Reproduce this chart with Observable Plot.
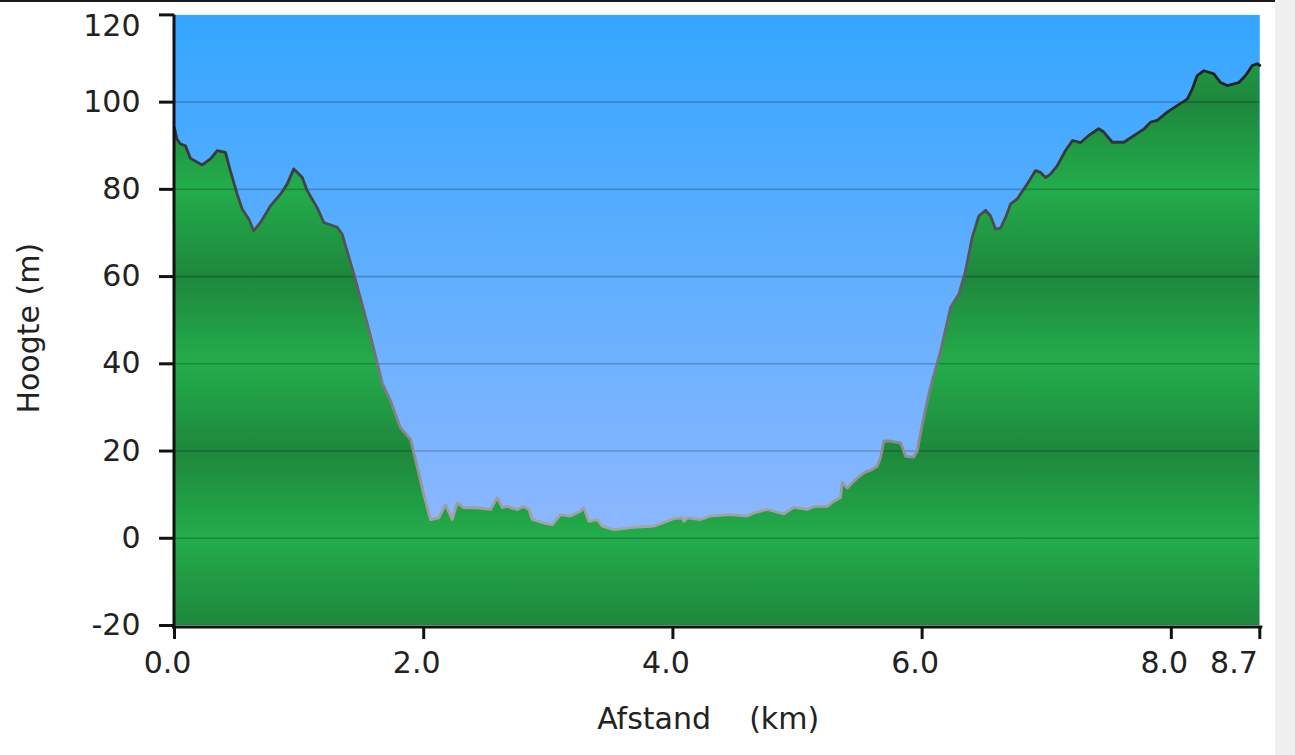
<!DOCTYPE html>
<html><head><meta charset="utf-8">
<script src="https://cdn.jsdelivr.net/npm/d3@7"></script>
<script src="https://cdn.jsdelivr.net/npm/@observablehq/plot@0.6"></script>
<style>
html,body{margin:0;padding:0;background:#efefef;}
#wrap{position:relative;width:1275px;height:755px;background:#fff;overflow:hidden;}
#topline{position:absolute;left:0;top:0;width:1275px;height:2px;background:#1a1a1a;z-index:2;}
</style></head><body>
<div id="wrap"><div id="topline"></div></div>
<script>
// Distance along route (km)
const distKm = [
  0.000, 0.020, 0.048, 0.088, 0.128, 0.222, 0.289, 0.343, 0.409, 0.449,
  0.503, 0.543, 0.596, 0.636, 0.690, 0.770, 0.851, 0.904, 0.957, 1.025,
  1.065, 1.145, 1.198, 1.306, 1.346, 1.439, 1.509, 1.573, 1.629, 1.669,
  1.734, 1.814, 1.894, 1.921, 2.001, 2.055, 2.121, 2.175, 2.229, 2.269,
  2.322, 2.429, 2.536, 2.590, 2.630, 2.670, 2.750, 2.803, 2.844, 2.871,
  2.964, 3.031, 3.098, 3.178, 3.258, 3.285, 3.325, 3.392, 3.433, 3.526,
  3.686, 3.847, 3.954, 4.007, 4.075, 4.088, 4.115, 4.222, 4.302, 4.462,
  4.596, 4.649, 4.757, 4.810, 4.890, 4.970, 5.078, 5.131, 5.238, 5.291,
  5.345, 5.359, 5.399, 5.479, 5.532, 5.600, 5.640, 5.666, 5.693, 5.746,
  5.827, 5.867, 5.933, 5.961, 6.001, 6.054, 6.081, 6.148, 6.228, 6.295,
  6.348, 6.402, 6.455, 6.509, 6.549, 6.589, 6.629, 6.669, 6.709, 6.763,
  6.843, 6.910, 6.950, 6.990, 7.030, 7.084, 7.151, 7.207, 7.271, 7.335,
  7.416, 7.456, 7.526, 7.619, 7.699, 7.779, 7.833, 7.887, 7.967, 8.047,
  8.128, 8.168, 8.208, 8.261, 8.341, 8.395, 8.449, 8.542, 8.596, 8.650,
  8.690, 8.710
];
// Elevation (m)
const heightM = [
  94.0, 91.5, 90.4, 90.0, 87.1, 85.6, 87.0, 88.9, 88.5, 84.2,
  78.9, 75.5, 73.2, 70.5, 72.4, 76.2, 78.9, 81.2, 84.7, 82.7,
  79.7, 75.8, 72.4, 71.3, 69.7, 60.6, 53.3, 46.4, 40.0, 35.4,
  31.5, 25.3, 22.7, 19.6, 10.0, 4.3, 4.7, 7.7, 4.3, 8.1,
  7.0, 7.0, 6.6, 9.3, 7.0, 7.3, 6.6, 7.3, 6.6, 4.3,
  3.5, 3.1, 5.4, 5.1, 6.2, 7.0, 3.9, 4.3, 2.8, 2.0,
  2.5, 2.8, 3.9, 4.5, 4.7, 3.9, 4.7, 4.3, 5.1, 5.4,
  5.1, 5.8, 6.6, 6.2, 5.6, 7.1, 6.6, 7.3, 7.3, 8.5,
  9.3, 12.7, 11.5, 13.8, 15.0, 15.8, 16.5, 18.4, 22.3, 22.3,
  21.9, 18.8, 18.6, 20.0, 26.1, 33.0, 36.1, 42.9, 52.9, 56.0,
  61.3, 69.0, 73.9, 75.2, 73.9, 70.9, 71.1, 73.5, 76.6, 77.8,
  81.2, 84.3, 83.9, 82.7, 83.5, 85.4, 88.9, 91.2, 90.7, 92.3,
  93.9, 93.2, 90.8, 90.8, 92.3, 93.8, 95.4, 95.8, 97.7, 99.2,
  100.7, 103.0, 106.1, 107.2, 106.5, 104.5, 103.8, 104.5, 106.1, 108.4,
  108.8, 108.4
];
const yTicks = [-20, 0, 20, 40, 60, 80, 100];
const yTopTick = [120];
const gridLevels = [0, 20, 40, 60, 80, 100];
const xTicks = [0, 2, 4, 6, 8];
const xEndTick = [8.71];
const xLabel = "Afstand\u00a0\u00a0\u00a0\u00a0(km)";
const yLabel = "Hoogte (m)";

const data = distKm.map((d, i) => ({km: d, m: heightM[i]}));
const ink = "#222";
const fs = 30;

const chart = Plot.plot({
  width: 1275, height: 755,
  marginLeft: 174, marginRight: 15.7, marginTop: 14.4, marginBottom: 130,
  style: {fontFamily: "DejaVu Sans", fontSize: fs + "px", color: ink, background: "transparent", overflow: "visible"},
  x: {domain: [0, 8.71], axis: null},
  y: {domain: [-20, 120], axis: null},
  marks: [
    Plot.frame({fill: "url(#sky)", stroke: "none"}),
    Plot.areaY(data, {x: "km", y1: -20, y2: "m", fill: "url(#ground)"}),
    Plot.ruleY(gridLevels, {stroke: "#000", strokeOpacity: 0.22, strokeWidth: 1.6}),
    Plot.line(data, {x: "km", y: "m", stroke: "url(#outline)", strokeWidth: 2.8, strokeLinejoin: "round", strokeLinecap: "round"}),
    Plot.ruleX([0], {stroke: "#111", strokeWidth: 3, dx: -0.5, insetBottom: -3}),
    Plot.ruleY([-20], {stroke: "#111", strokeWidth: 3, dy: 1.5, insetLeft: -2, insetRight: -3}),
    Plot.axisY(yTicks.concat(yTopTick), {tickSize: 15, strokeWidth: 3, stroke: "#111", fill: "none", label: null}),
    Plot.axisY(yTicks, {tickSize: 0, tickPadding: 34, fontSize: fs, fill: ink, tickFormat: d => String(d), label: null}),
    Plot.axisY(yTopTick, {tickSize: 0, tickPadding: 34, fontSize: fs, fill: ink, tickFormat: d => String(d), dy: 11, label: null}),
    Plot.axisX(xTicks.concat(xEndTick), {tickSize: 13, strokeWidth: 3, stroke: "#111", fill: "none", dy: 1, label: null}),
    Plot.axisX(xTicks, {tickSize: 0, tickPadding: 26, fontSize: fs, fill: ink, tickFormat: d => d.toFixed(1), dx: -7, label: null}),
    Plot.axisX(xEndTick, {tickSize: 0, tickPadding: 26, fontSize: fs, fill: ink, tickFormat: d => d.toFixed(1), textAnchor: "end", dx: -2, label: null}),
    Plot.text([yLabel], {frameAnchor: "left", textAnchor: "middle", lineAnchor: "middle", rotate: -90, dx: -145, dy: 8, fontSize: fs, fill: ink}),
    Plot.text([xLabel], {frameAnchor: "bottom", textAnchor: "middle", lineAnchor: "middle", dx: -9, dy: 93.5, fontSize: fs, fill: ink})
  ]
});

const ys = chart.scale("y");
const svg = d3.select(chart);
const defs = svg.insert("defs", ":first-child");
function grad(id, v1, v2, stops, spread) {
  const g = defs.append("linearGradient")
    .attr("id", id).attr("gradientUnits", "userSpaceOnUse")
    .attr("x1", 0).attr("x2", 0)
    .attr("y1", ys.apply(v1)).attr("y2", ys.apply(v2));
  if (spread) g.attr("spreadMethod", spread);
  stops.forEach(([o, c]) => g.append("stop").attr("offset", o).attr("stop-color", c));
}
grad("sky", 120, -20, [[0, "#34a6ff"], [1, "#9cbaff"]]);
grad("ground", 80, 60, [[0, "#23ad4b"], [1, "#1e873c"]], "reflect");
grad("outline", 110, 0, [[0, "#1c1c1c"], [1, "#a8a8a8"]]);

document.getElementById("wrap").appendChild(chart);
</script>
</body></html>
